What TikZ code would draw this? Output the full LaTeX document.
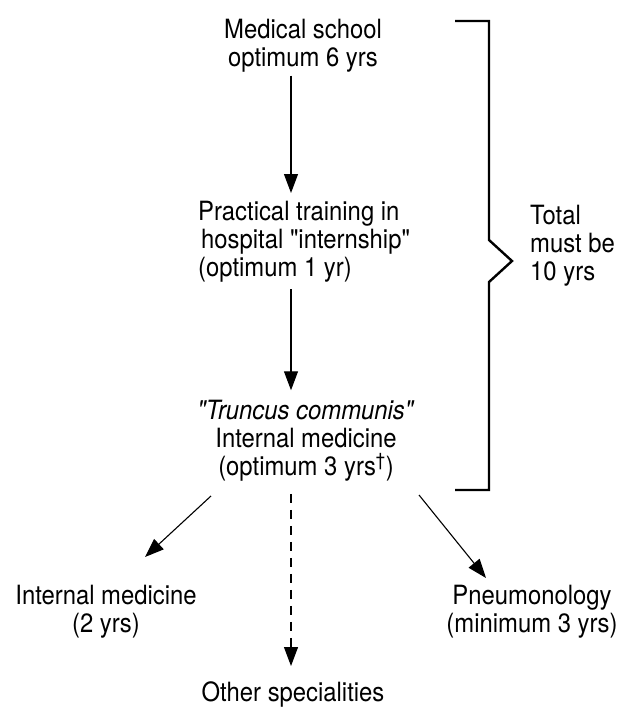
\documentclass[tikz,border=0pt]{standalone}
\usepackage{fontspec}
\setmainfont{TeX Gyre Heros}[FakeStretch=0.9,Ligatures=TeXOff]
\usetikzlibrary{arrows.meta}
\begin{document}
\begin{tikzpicture}[x=1pt,y=-1pt,
  txt/.style={inner sep=0pt,font=\fontsize{26.5}{28}\selectfont},
  arr/.style={line width=1.1pt,-{Triangle[width=14pt,length=19pt]}},
  brk/.style={line width=2.4pt}]
\useasboundingbox (0,0) rectangle (621,709);
\node[txt,align=center] (med) at (303,46) {Medical school\\optimum 6 yrs};
\node[txt,align=left,anchor=north west] (prac) at (198,201) {Practical training in\\\hspace{3pt}hospital "internship"\\(optimum 1 yr)};
\node[txt,align=center] (trun) at (306,441) {\textit{"Truncus communis"}\\Internal medicine\\(optimum 3 yrs\textsuperscript{†})};
\node[txt,align=left,anchor=west] (tot) at (530,246) {Total\\must be\\10 yrs};
\node[txt,align=center] (im) at (106,612) {Internal medicine\\(2 yrs)};
\node[txt,align=center] (pn) at (532,612) {Pneumonology\\(minimum 3 yrs)};
\node[txt,align=center] (oth) at (293,694) {Other specialities};
\coordinate (ax) at (291,0);
\draw[arr] ([yshift=-3pt]med.south -| ax) -- ([yshift=8pt]prac.north -| ax);
\draw[arr] ([yshift=-7pt]prac.south -| ax) -- ([yshift=10pt]trun.north -| ax);
\draw[arr,dash pattern=on 9pt off 7pt] ([yshift=-12pt]trun.south -| ax) -- ([yshift=15pt]oth.north -| ax);
\coordinate (l1) at (211,496);
\coordinate (l2) at (145,557);
\coordinate (r1) at (419,495);
\coordinate (r2) at (486,578);
\draw[arr] (l1) -- (l2);
\draw[arr] (r1) -- (r2);
\coordinate (b1) at (455,21);
\coordinate (b2) at (489,21);
\coordinate (b3) at (489,240);
\coordinate (b4) at (512,261);
\coordinate (b5) at (489,282);
\coordinate (b6) at (489,490);
\coordinate (b7) at (455,490);
\draw[brk] (b1) -- (b2) -- (b3) -- (b4) -- (b5) -- (b6) -- (b7);
\end{tikzpicture}
\end{document}
